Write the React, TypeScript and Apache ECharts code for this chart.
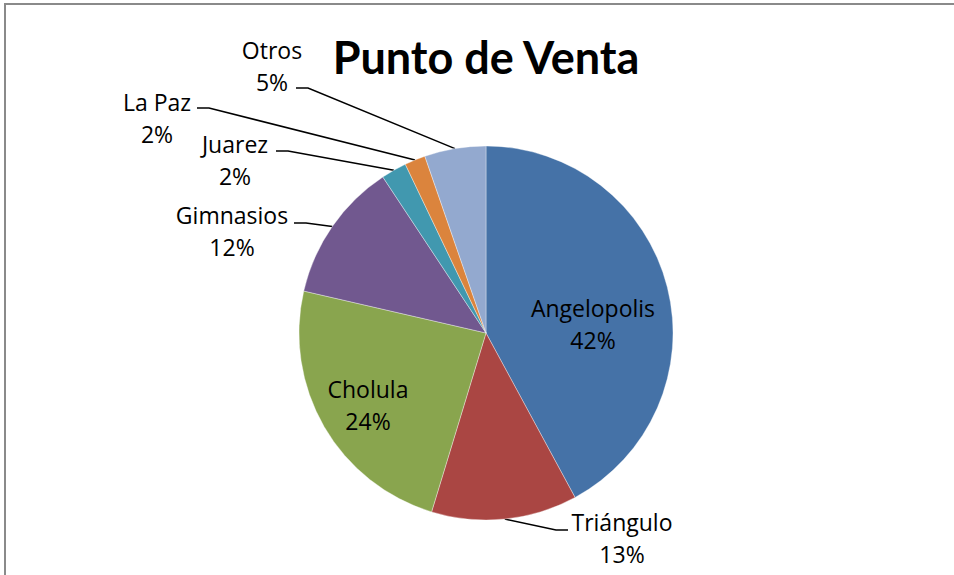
import React, { useEffect, useRef } from "react";
import * as echarts from "echarts";

const categories = ["Angelopolis", "Triángulo", "Cholula", "Gimnasios", "Juarez", "La Paz", "Otros"];
const values = [42.1, 12.6, 23.9, 12.1, 2.2, 1.8, 5.3];
const colors = ["#4572A7", "#AA4643", "#89A54E", "#71588F", "#4198AF", "#DB843D", "#93A9CF"];
const inside = [true, false, true, false, false, false, false];

// label layout (centre of each label block) and leader-line end offsets
const labelPos: [number, number][] = [
  [593, 324],
  [622, 538],
  [368, 405],
  [232, 231],
  [235, 160],
  [157, 118],
  [272, 66],
];
const leaderEnd: [number, number, number][] = [
  [0, 0, 0],
  [-54, -8, -12],
  [0, 0, 0],
  [62, -8, 12],
  [41, -9, 12],
  [40, -10, 12],
  [24, 22, 12],
];

export default function App() {
  const ref = useRef<HTMLDivElement>(null);
  useEffect(() => {
    if (!ref.current) return;
    const chart = echarts.init(ref.current, null, { renderer: "svg" });
    chart.setOption({
      animation: false,
      backgroundColor: "#ffffff",
      title: {
        text: "Punto de Venta",
        left: 481,
        textAlign: "center",
        top: 29,
        textStyle: { fontFamily: "Lato", fontWeight: "bold", fontSize: 45, color: "#000" },
      },
      graphic: [
        {
          type: "rect",
          shape: { x: 5, y: 4, width: 1000, height: 700 },
          style: { fill: "none", stroke: "#8a8a8a", lineWidth: 2 },
          silent: true,
        },
      ],
      series: [
        {
          type: "pie",
          center: [486, 333],
          radius: 187,
          startAngle: 90,
          clockwise: true,
          avoidLabelOverlap: false,
          itemStyle: { borderColor: "rgba(255,255,255,0.6)", borderWidth: 0.6 },
          label: {
            fontFamily: "Open Sans",
            fontSize: 23,
            lineHeight: 32,
            color: "#000",
            align: "center",
            formatter: (p: any) => `${p.name}\n${Math.round(p.percent)}%`,
          },
          labelLine: {
            show: true,
            length: 20,
            length2: 12,
            smooth: false,
            lineStyle: { color: "#000", width: 1.5 },
          },
          labelLayout: (params: any) => {
            const i = params.dataIndex;
            const [x, y] = labelPos[i];
            const out: any = { x, y, align: "center", verticalAlign: "middle" };
            if (!inside[i] && params.labelLinePoints) {
              const anchor = params.labelLinePoints[0];
              const [dx, dy, el] = leaderEnd[i];
              const end = [x + dx, y + dy];
              const elbow = [end[0] + el, end[1]];
              out.labelLinePoints = [anchor, elbow, end];
            }
            return out;
          },
          data: categories.map((name, i) => ({
            name,
            value: values[i],
            itemStyle: { color: colors[i] },
            label: { position: inside[i] ? "inside" : "outside" },
            labelLine: { show: !inside[i] },
          })),
        },
      ],
    });
    return () => chart.dispose();
  }, []);
  return (
    <div
      ref={ref}
      style={{ position: "absolute", left: 0, top: 0, width: 954, height: 575 }}
    />
  );
}
